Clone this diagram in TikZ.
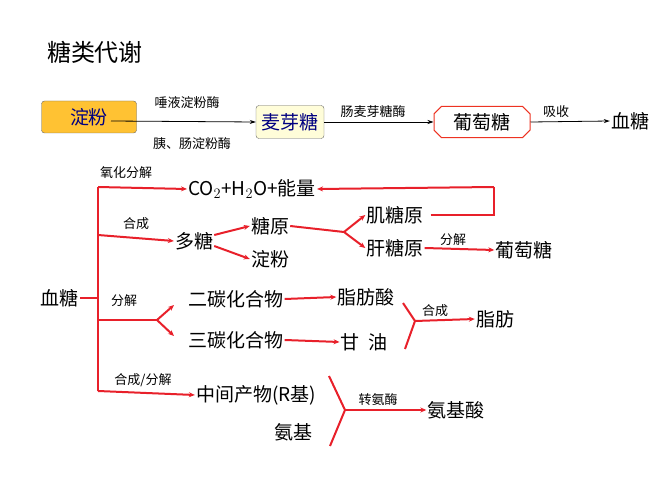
\documentclass[tikz,border=0pt]{standalone}
\usepackage{fontspec}
\setmainfont{Noto Sans CJK SC}
\usetikzlibrary{arrows.meta,shapes.misc}
\definecolor{rd}{HTML}{E8202A}
\begin{document}
\begin{tikzpicture}[x=1pt,y=-1pt,
 big/.style={font=\fontsize{19}{19}\selectfont,inner sep=1pt},
 lab/.style={font=\fontsize{13}{13}\selectfont,inner sep=1pt},
 ra/.style={rd,line width=2pt,-{Stealth[length=6pt,width=5pt]}},
 rl/.style={rd,line width=2pt},
 ba/.style={black,line width=0.8pt,-{Stealth[length=6pt,width=4pt]}}]
\useasboundingbox (0,0) rectangle (657,492);
\node[font=\fontsize{24}{24}\selectfont] (t) at (95,52) {糖类代谢};
% top row
\node[draw=black!60,fill=orange!60!yellow!80,rounded corners=3pt,minimum width=95pt,minimum height=32pt,font=\fontsize{19}{19}\selectfont,text=blue!50!black] (dianfen) at (89,117) {淀粉};
\node[draw=black!60,fill=yellow!15,rounded corners=3pt,minimum width=68pt,minimum height=33pt,font=\fontsize{19}{19}\selectfont,text=blue!50!black,inner sep=1pt] (maiya) at (290,122) {麦芽糖};
\node[draw=rd!80!orange,line width=1pt,chamfered rectangle,chamfered rectangle xsep=4pt,minimum width=96pt,minimum height=31pt,font=\fontsize{19}{19}\selectfont] (ptt1) at (482,122) {葡萄糖};
\node[big] (xt1) at (630,121) {血糖};
\draw[ba] (111,121) -- (maiya.west);
\node[lab] at (187,103) {唾液淀粉酶};
\node[lab] at (192,144) {胰、肠淀粉酶};
\draw[ba] (maiya.east) -- (ptt1.west);
\node[lab] at (373,112) {肠麦芽糖酶};
\draw[ba] (ptt1.east) -- (xt1.west);
\node[lab] at (556,112) {吸收};
% lower
\node[big] (xt) at (60,298) {血糖};
\coordinate (vt) at (98,187); \coordinate (vb) at (98,391);
\draw[rl] (vt) -- (vb);
\draw[rl] (xt.east) -- (98,298);
\node[big] (co2) at (252,189) {CO$_2$+H$_2$O+能量};
\draw[ra] (98,187) -- (co2.west);
\node[lab] at (126,173) {氧化分解};
\node[big] (duo) at (194,241) {多糖};
\draw[ra] (98,235) -- (duo.west);
\node[lab] at (136,224) {合成};
\node[big] (ty) at (270,226) {糖原};
\node[big] (df) at (270,259) {淀粉};
\draw[ra] (duo.east)+(0,-6) -- (ty.west);
\draw[ra] (duo.east)+(0,5) -- (df.west);
\node[big] (ji) at (395,215) {肌糖原};
\node[big] (gan) at (395,248) {肝糖原};
\coordinate (f1) at (344,232);
\draw[rl] (ty.east) -- (f1);
\draw[ra] (f1) -- (ji.west);
\draw[ra] (f1) -- (gan.west);
\draw[rl] (ji.east)+(6,0) -- (494,215) -- (494,187);
\draw[ra] (494,187) -- (co2.east);
\node[big] (ptt2) at (524,250) {葡萄糖};
\draw[ra] (gan.east) -- (ptt2.west);
\node[lab] at (453,240) {分解};
\node[big] (er) at (236,299) {二碳化合物};
\node[big] (san) at (236,340) {三碳化合物};
\coordinate (f2) at (157,320);
\draw[rl] (98,320) -- (f2);
\draw[ra] (f2) -- (174,305);
\draw[ra] (f2) -- (174,336);
\node[lab] at (124,301) {分解};
\node[big] (zfs) at (366,297) {脂肪酸};
\node[big] (gy) at (364,342) {甘\ \ 油};
\draw[ra] (er.east) -- (zfs.west);
\draw[ra] (san.east) -- (gy.west);
\coordinate (f3) at (415,321);
\node[big] (zf) at (495,319) {脂肪};
\draw[rl] (403,303) -- (f3) -- (405,349);
\draw[ra] (f3) -- (zf.west);
\node[lab] at (435,311) {合成};
\node[big] (zj) at (256,395) {中间产物(R基)};
\draw[ra] (98,391) -- (zj.west);
\node[lab] at (143,380) {合成/分解};
\node[big] (aj) at (293,432) {氨基};
\coordinate (f4) at (345,410);
\draw[rl] (329,376) -- (f4) -- (330,446);
\node[big] (ajs) at (456,410) {氨基酸};
\draw[ra] (f4) -- (ajs.west);
\node[lab] at (378,400) {转氨酶};
\end{tikzpicture}
\end{document}
